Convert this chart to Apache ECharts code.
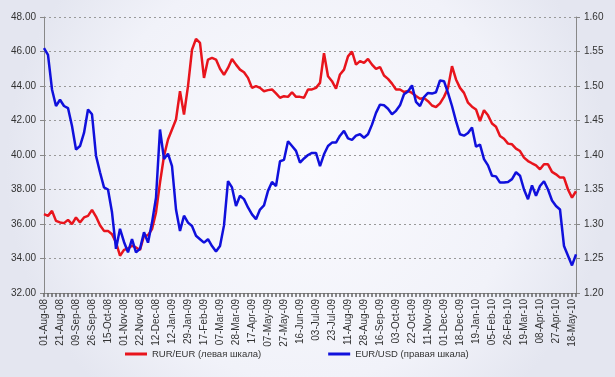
<!DOCTYPE html>
<html>
<head>
<meta charset="utf-8">
<script src="https://cdn.jsdelivr.net/npm/echarts@6/dist/echarts.min.js"></script>
<style>
html,body{margin:0;padding:0;}
#c{width:615px;height:377px;}
</style>
</head>
<body>
<div id="c"></div>
<script>
// Tick labels shown on the x axis (every 4th sampled point)
const tickLabels = ['01-Aug-08','21-Aug-08','09-Sep-08','26-Sep-08','15-Oct-08','01-Nov-08','22-Nov-08','12-Dec-08','12-Jan-09','29-Jan-09','17-Feb-09','07-Mar-09','28-Mar-09','17-Apr-09','07-May-09','27-May-09','16-Jun-09','03-Jul-09','23-Jul-09','11-Aug-09','28-Aug-09','16-Sep-09','03-Oct-09','22-Oct-09','11-Nov-09','01-Dec-09','18-Dec-09','19-Jan-10','05-Feb-10','26-Feb-10','19-Mar-10','08-Apr-10','27-Apr-10','18-May-10'];

// RUR/EUR (left axis)
const rurEur = [36.57,36.47,36.76,36.18,36.09,36.05,36.24,35.99,36.38,36.09,36.38,36.47,36.82,36.43,35.93,35.60,35.60,35.41,34.93,34.16,34.50,34.58,34.74,34.64,34.50,35.32,35.35,35.70,36.67,38.40,39.94,40.90,41.48,42.06,43.70,42.35,43.99,46.10,46.73,46.50,44.47,45.53,45.63,45.53,45.00,44.65,45.05,45.57,45.24,44.95,44.80,44.47,43.89,43.99,43.89,43.70,43.76,43.80,43.57,43.32,43.41,43.37,43.64,43.37,43.37,43.32,43.80,43.80,43.89,44.18,45.90,44.57,44.28,43.84,44.67,44.95,45.72,46.00,45.24,45.44,45.34,45.57,45.24,44.99,45.10,44.61,44.41,44.14,43.80,43.80,43.65,43.72,43.60,43.42,43.26,43.30,43.12,42.87,42.78,42.99,43.37,43.89,45.15,44.38,43.89,43.60,43.03,42.80,42.64,41.97,42.60,42.30,41.83,41.64,41.10,40.94,40.66,40.62,40.37,40.23,39.85,39.65,39.52,39.40,39.17,39.46,39.46,39.02,38.88,38.69,38.69,38.00,37.53,37.90];

// EUR/USD (right axis)
const eurUsd = [1.555,1.545,1.495,1.471,1.480,1.471,1.468,1.442,1.408,1.413,1.432,1.466,1.459,1.399,1.375,1.353,1.350,1.317,1.264,1.293,1.274,1.259,1.278,1.259,1.264,1.288,1.273,1.302,1.338,1.437,1.394,1.402,1.384,1.321,1.290,1.312,1.302,1.297,1.283,1.278,1.273,1.278,1.268,1.260,1.268,1.298,1.362,1.353,1.326,1.341,1.336,1.324,1.314,1.307,1.321,1.327,1.348,1.361,1.355,1.391,1.393,1.420,1.413,1.406,1.389,1.395,1.400,1.403,1.403,1.384,1.401,1.413,1.418,1.418,1.428,1.435,1.424,1.422,1.428,1.430,1.425,1.430,1.444,1.461,1.473,1.472,1.467,1.459,1.464,1.472,1.488,1.492,1.501,1.477,1.471,1.484,1.490,1.489,1.491,1.508,1.507,1.490,1.471,1.449,1.430,1.428,1.432,1.440,1.412,1.415,1.394,1.385,1.370,1.369,1.360,1.360,1.361,1.365,1.375,1.370,1.350,1.336,1.356,1.341,1.355,1.362,1.350,1.334,1.326,1.321,1.268,1.254,1.240,1.256];

const seriesNames = ['RUR/EUR (левая шкала)', 'EUR/USD (правая шкала)'];

// categories: each tick label followed by unlabeled sample points
const categories = [];
for (let i = 0; i < rurEur.length; i++) {
  const j = Math.floor(i / 4);
  categories.push(i % 4 === 0 && j < tickLabels.length ? tickLabels[j] : (tickLabels[Math.min(j, tickLabels.length - 1)] + '+' + (i % 4)));
}

const chart = echarts.init(document.getElementById('c'), null, {renderer: 'canvas'});
const font = 'Liberation Sans, Arial, sans-serif';
chart.setOption({
  backgroundColor: {
    type: 'radial', x: 0.5, y: 0.45, r: 0.8,
    colorStops: [{offset: 0, color: '#fafafe'}, {offset: 0.7, color: '#f1f2f9'}, {offset: 1, color: '#e4e6f0'}]
  },
  animation: false,
  textStyle: {fontFamily: font},
  grid: {left: 44, right: 39, top: 17, bottom: 84, containLabel: false},
  legend: {
    data: seriesNames,
    left: 120, top: 344,
    itemGap: 67,
    itemWidth: 22, itemHeight: 3,
    icon: 'rect',
    textStyle: {fontFamily: font, fontSize: 9.5, color: '#333'}
  },
  xAxis: {
    type: 'category',
    data: categories,
    boundaryGap: false,
    axisLine: {lineStyle: {color: '#888', width: 1}},
    axisTick: {interval: 0, length: 4, lineStyle: {color: '#666', width: 1.5}},
    axisLabel: {
      interval: 3, rotate: 90, fontSize: 10, color: '#333', fontFamily: font, margin: 6,
      formatter: v => v.indexOf('+') >= 0 ? '' : v
    },
    splitLine: {show: false}
  },
  yAxis: [
    {
      type: 'value', min: 32, max: 48, interval: 2, position: 'left',
      axisLine: {show: true, lineStyle: {color: '#888'}},
      axisTick: {show: true, length: 4, lineStyle: {color: '#888'}},
      axisLabel: {fontSize: 10, color: '#333', fontFamily: font, margin: 8, formatter: v => v.toFixed(2)},
      splitLine: {show: true, lineStyle: {color: '#999', type: [2, 3], width: 1}}
    },
    {
      type: 'value', min: 1.2, max: 1.6, interval: 0.05, position: 'right',
      axisLine: {show: true, lineStyle: {color: '#888'}},
      axisTick: {show: true, length: 4, lineStyle: {color: '#888'}},
      axisLabel: {fontSize: 10, color: '#333', fontFamily: font, margin: 8, formatter: v => v.toFixed(2)},
      splitLine: {show: false}
    }
  ],
  series: [
    {
      name: seriesNames[0], type: 'line', yAxisIndex: 0, data: rurEur,
      symbol: 'none', lineStyle: {color: '#e8141c', width: 2.5}, itemStyle: {color: '#e8141c'}, z: 2
    },
    {
      name: seriesNames[1], type: 'line', yAxisIndex: 1, data: eurUsd,
      symbol: 'none', lineStyle: {color: '#1010dc', width: 2.5}, itemStyle: {color: '#1010dc'}, z: 3
    }
  ]
});
</script>
</body>
</html>
